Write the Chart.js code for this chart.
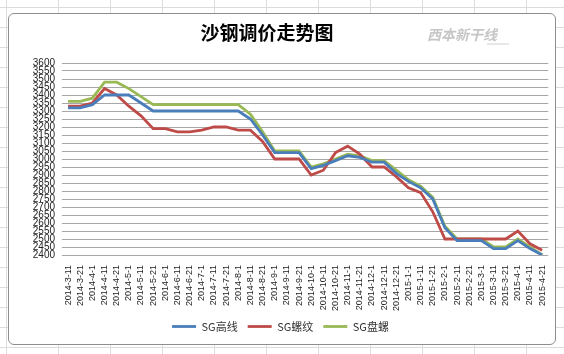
<!DOCTYPE html>
<html>
<head>
<meta charset="utf-8">
<script src="https://cdn.jsdelivr.net/npm/chart.js@4"></script>
<style>
  html, body { margin: 0; padding: 0; }
  body {
    width: 564px; height: 354px; overflow: hidden; background-color: #fff;
    background-image: linear-gradient(to right, #dadcdd 1px, transparent 1px),
                      linear-gradient(to bottom, #dadcdd 1px, transparent 1px);
    background-size: 52px 20px;
    background-position: 6px 7px;
  }
  #box {
    position: absolute; left: 8px; top: 13px; width: 546px; height: 330px;
    background: #fff; border: 1px solid #8e8e8e; border-radius: 6px;
  }
  canvas { display: block; }
</style>
</head>
<body>
<div id="box"><canvas id="chart" width="546" height="330"></canvas></div>
<script>
const dates = [
  '2014-3-11', '2014-3-21', '2014-4-1', '2014-4-11', '2014-4-21', '2014-5-1', '2014-5-11', '2014-5-21',
  '2014-6-1', '2014-6-11', '2014-6-21', '2014-7-1', '2014-7-11', '2014-7-21', '2014-8-1', '2014-8-11',
  '2014-8-21', '2014-9-1', '2014-9-11', '2014-9-21', '2014-10-1', '2014-10-11', '2014-10-21', '2014-11-1',
  '2014-11-21', '2014-12-1', '2014-12-11', '2014-12-21', '2015-1-1', '2015-1-11', '2015-1-21', '2015-2-1',
  '2015-2-11', '2015-2-21', '2015-3-1', '2015-3-11', '2015-3-21', '2015-4-1', '2015-4-11', '2015-4-21'
]

// SG高线
const gaoxian = [
  3320, 3320, 3340, 3400, 3400, 3400, 3350, 3300, 3300, 3300, 3300, 3300, 3300, 3300, 3300, 3250,
  3150, 3040, 3040, 3040, 2940, 2960, 2990, 3020, 3010, 2980, 2980, 2910, 2860, 2820, 2750, 2570,
  2490, 2490, 2490, 2440, 2440, 2490, 2440, 2400
]
// SG螺纹
const luowen = [
  3330, 3330, 3350, 3440, 3400, 3330, 3270, 3190, 3190, 3170, 3170, 3180, 3200, 3200, 3180, 3180,
  3110, 3000, 3000, 3000, 2900, 2930, 3040, 3080, 3030, 2950, 2950, 2890, 2820, 2790, 2670, 2500,
  2500, 2500, 2500, 2500, 2500, 2550, 2470, 2430
]
// SG盘螺
const panluo = [
  3360, 3360, 3380, 3480, 3480, 3440, 3390, 3340, 3340, 3340, 3340, 3340, 3340, 3340, 3340, 3280,
  3170, 3050, 3050, 3050, 2950, 2970, 3000, 3030, 3020, 2990, 2990, 2930, 2870, 2830, 2760, 2580,
  2500, 2500, 2500, 2450, 2450, 2500, 2450, 2400
]

const seriesNames = ['SG高线', 'SG螺纹', 'SG盘螺']
const colors = ['#4a7ebb', '#be4b48', '#98b954']
const chartTitle = '沙钢调价走势图'

// title sits a bit left of centre in the original, plus a faint watermark on the right
const heading = {
  id: 'heading',
  afterDraw(chart) {
    let ctx = chart.ctx
    ctx.save()
    ctx.textBaseline = 'middle'
    ctx.textAlign = 'center'
    ctx.fillStyle = '#000'
    ctx.font = 'bold 19px "Noto Sans CJK SC"'
    ctx.fillText(chartTitle, 258, 19)

    ctx.textAlign = 'left'
    ctx.fillStyle = '#c6c6c6'
    ctx.font = 'italic bold 14px "Noto Sans CJK SC"'
    ctx.fillText('西本新干线', 418, 21)
    ctx.strokeStyle = '#d0d0d0'
    ctx.lineWidth = 1
    ctx.beginPath()
    ctx.moveTo(478, 30)
    ctx.lineTo(500, 30)
    ctx.stroke()
    ctx.restore()
  }
}

new Chart(document.querySelector('#chart'), {
  type: 'line',
  data: {
    labels: dates,
    datasets: [gaoxian, luowen, panluo].map((values, i) => ({
      label: seriesNames[i],
      data: values,
      borderColor: colors[i],
      backgroundColor: colors[i],
      borderWidth: 2.8,
      pointRadius: 0,
      tension: 0
    }))
  },
  options: {
    responsive: false,
    animation: false,
    layout: { padding: { top: 49, left: 0, right: 3, bottom: 2 } },
    plugins: {
      title: { display: false },
      legend: {
        position: 'bottom',
        labels: {
          usePointStyle: true,
          pointStyle: 'line',
          pointStyleWidth: 24,
          color: '#333',
          font: { family: '"Noto Sans CJK SC"', size: 11 },
          padding: 10
        }
      },
      tooltip: { enabled: false }
    },
    scales: {
      x: {
        offset: true,
        grid: { display: false },
        border: { display: false },
        ticks: {
          autoSkip: false, minRotation: 90, maxRotation: 90, padding: 2,
          color: '#222', font: { family: '"Liberation Sans"', size: 9 }
        },
        afterFit: s => { s.height = 56 }
      },
      y: {
        min: 2400,
        max: 3600,
        grid: { color: '#a6a6a6', drawTicks: false },
        border: { display: false },
        ticks: {
          stepSize: 50, autoSkip: false, padding: 7,
          color: '#222', font: { family: '"Liberation Sans"', size: 10 },
          callback: v => String(v)
        },
        afterFit: s => { s.width = 53 }
      }
    }
  },
  plugins: [heading]
})
</script>
</body>
</html>
